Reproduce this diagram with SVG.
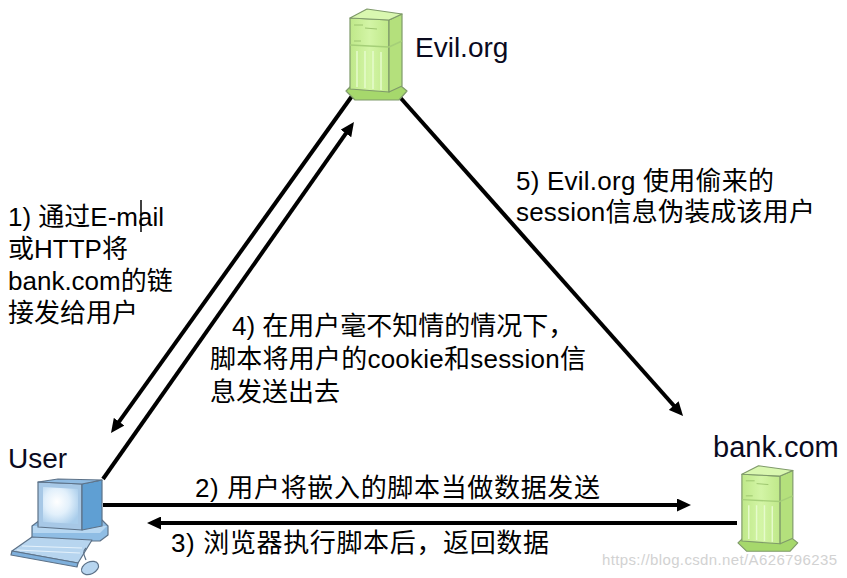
<svg xmlns="http://www.w3.org/2000/svg" width="847" height="578" viewBox="0 0 847 578">
<style>
.t{font-family:"Liberation Sans","Noto Sans CJK SC",sans-serif;font-size:26px;fill:#000}
.n{font-family:"Liberation Sans","Noto Sans CJK SC",sans-serif;font-size:28px;fill:#0a0a1e}
.w{font-family:"Liberation Sans",sans-serif;font-size:15px;fill:#d2d2d2}
.ln{stroke:#000;stroke-width:4;fill:none}
.so{stroke:#7f9a6a;stroke-width:1.2;stroke-linejoin:round}
.co{stroke:#5d7288;stroke-width:1.2;stroke-linejoin:round}
</style>
<defs>
<marker id="ah" markerUnits="userSpaceOnUse" markerWidth="14" markerHeight="13" refX="4" refY="6.5" orient="auto">
<path d="M0,0 L14,6.5 L0,13 Z" fill="#000"/>
</marker>
<radialGradient id="scr" cx="0.4" cy="0.4" r="0.7">
<stop offset="0" stop-color="#ffffff"/>
<stop offset="0.5" stop-color="#e2f0fb"/>
<stop offset="1" stop-color="#a9cdeb"/>
</radialGradient>
<linearGradient id="gf" x1="0" y1="0" x2="1" y2="0">
<stop offset="0" stop-color="#bfe889"/>
<stop offset="0.5" stop-color="#d3f5a6"/>
<stop offset="1" stop-color="#bfe889"/>
</linearGradient>
<g id="srv">
<polygon class="so" points="1,86 10,95 54,95 62,86 56,81 6,81" fill="#a6d86c"/>
<polygon class="so" points="5,13 44,15 44,87 5,84" fill="url(#gf)"/>
<polygon class="so" points="44,15 57,9 57,81 44,87" fill="#b4e07c"/>
<polygon class="so" points="5,13 22,4 57,9 44,15" fill="#d9f7b0"/>
<line x1="5" y1="40" x2="44" y2="42" stroke="#a5cf78" stroke-width="1.5"/>
<line x1="44" y1="42" x2="57" y2="36" stroke="#a5cf78" stroke-width="1.5"/>
<g stroke="#e6fbcc" stroke-width="1.5">
<line x1="12" y1="46" x2="12" y2="82"/>
<line x1="20" y1="46" x2="20" y2="83"/>
<line x1="28" y1="46" x2="28" y2="84"/>
<line x1="36" y1="47" x2="36" y2="85"/>
</g>
<g stroke="#9cc46e" stroke-width="1">
<line x1="9" y1="20" x2="18" y2="20"/>
<line x1="20" y1="23" x2="32" y2="24"/>
<line x1="9" y1="36" x2="16" y2="36"/>
</g>
</g>
</defs>

<g id="connectors">
<line class="ln" x1="352" y1="96" x2="116.8" y2="424.9" marker-end="url(#ah)"/>
<line class="ln" x1="103" y1="479" x2="348.2" y2="130.2" marker-end="url(#ah)"/>
<line class="ln" x1="398" y1="95" x2="676.4" y2="408.5" marker-end="url(#ah)"/>
<line class="ln" x1="103" y1="505" x2="681" y2="505" marker-end="url(#ah)"/>
<line class="ln" x1="737" y1="523" x2="157" y2="523" marker-end="url(#ah)"/>
</g>

<g id="evil">
<use href="#srv" x="345" y="5"/>
<text class="n" x="415" y="57">Evil.org</text>
</g>

<g id="bank">
<use href="#srv" transform="translate(737,462) scale(0.98,0.94)"/>
<text class="n" x="713" y="457" style="font-size:29px">bank.com</text>
</g>

<g id="user">
<text class="n" x="8" y="468">User</text>
<polygon class="co" points="32,526 40,520 102,520 108,526 108,535 100,541 32,541" fill="#8fbde4"/>
<polygon points="33,526 107,526 100,533 33,533" fill="#b7d7f1"/>
<polygon class="co" points="38,482 82,484 82,530 38,527" fill="#a7c8e6"/>
<polygon class="co" points="82,484 102,480 102,526 82,530" fill="#5f9fd3"/>
<polygon class="co" points="38,482 58,479 102,480 82,484" fill="#8fbbe2"/>
<polygon points="43,487 78,489 78,524 43,522" fill="url(#scr)"/>
<polygon class="co" points="12,551 32,537 92,540 78,563" fill="#b7d5ef"/>
<polygon class="co" points="12,551 78,563 77,567 11,555" fill="#7fb0dc"/>
<g stroke="#e4f1fb" stroke-width="1.2">
<line x1="22" y1="546" x2="82" y2="548"/>
<line x1="17" y1="550" x2="80" y2="553"/>
</g>
<path d="M86,560 C84,555 82,552 86,548" fill="none" stroke="#5d7288" stroke-width="1.2"/>
<ellipse class="co" cx="90" cy="568" rx="9" ry="6" transform="rotate(-25 90 568)" fill="#b7d5ef"/>
</g>

<g id="labels">
<text class="t" x="8" y="226">1) 通过E-mail</text>
<line x1="141" y1="200" x2="141" y2="232" stroke="#000" stroke-width="1.5"/>
<text class="t" x="8" y="258">或HTTP将</text>
<text class="t" x="8" y="290">bank.com的链</text>
<text class="t" x="8" y="322">接发给用户</text>

<text class="t" x="232" y="335">4) 在用户毫不知情的情况下，</text>
<text class="t" x="210" y="368" textLength="376" lengthAdjust="spacing">脚本将用户的cookie和session信</text>
<text class="t" x="210" y="401">息发送出去</text>

<text class="t" x="516" y="190" textLength="258" lengthAdjust="spacing">5) Evil.org 使用偷来的</text>
<text class="t" x="516" y="221" textLength="299" lengthAdjust="spacing">session信息伪装成该用户</text>

<text class="t" x="195" y="497" textLength="405" lengthAdjust="spacing">2) 用户将嵌入的脚本当做数据发送</text>
<text class="t" x="171" y="552" textLength="378" lengthAdjust="spacing">3) 浏览器执行脚本后，返回数据</text>
</g>

<text class="w" x="602" y="565" textLength="235" lengthAdjust="spacing">https://blog.csdn.net/A626796235</text>
</svg>
